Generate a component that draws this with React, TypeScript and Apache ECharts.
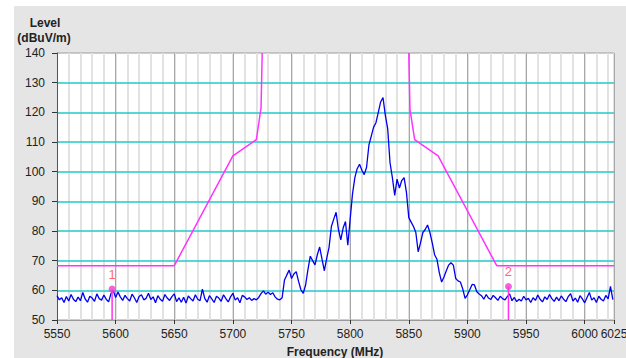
import { useEffect, useRef } from 'react';
import * as echarts from 'echarts';

// Axis ranges and tick labels
const FREQ_MIN = 5550;
const FREQ_MAX = 6025;
const X_LABEL_VALUES = [5550, 5600, 5650, 5700, 5750, 5800, 5850, 5900, 5950, 6000, 6025];
const LEVEL_MIN = 50;
const LEVEL_MAX = 140;

// Measured trace: sweep starts at 5550 MHz, one reading every 2 MHz
const TRACE_START_MHZ = 5550;
const TRACE_STEP_MHZ = 2;
const TRACE_LEVELS = [
  58.2, 56.8, 57.5, 55.9, 57.9, 56.4, 58.6, 57.0, 56.2, 57.7, // 5550
  56.5, 59.3, 57.1, 56.0, 58.0, 57.4, 56.3, 58.8, 57.2, 56.7, // 5570
  58.4, 57.0, 56.1, 58.9, 59.9, 57.6, 59.4, 57.8, 56.6, 58.3, // 5590
  57.2, 56.4, 58.7, 57.5, 55.9, 57.9, 58.5, 56.8, 57.3, 59.0, // 5610
  56.9, 57.8, 55.8, 58.2, 57.0, 56.3, 58.6, 57.4, 56.6, 57.9, // 5630
  58.8, 56.2, 57.5, 56.0, 57.7, 55.7, 58.1, 57.2, 56.4, 58.5, // 5650
  57.0, 56.5, 60.4, 57.3, 56.0, 58.2, 57.1, 55.9, 58.0, 57.4, // 5670
  56.3, 58.5, 57.2, 56.1, 57.8, 59.0, 56.7, 57.5, 55.8, 58.3, // 5690
  57.8, 56.9, 57.5, 56.6, 57.2, 56.8, 57.6, 58.9, 59.8, 58.7, // 5710
  59.4, 58.6, 59.2, 57.8, 57.0, 56.8, 57.5, 63.5, 65.2, 66.8, // 5730
  64.0, 65.5, 66.3, 63.0, 60.2, 59.0, 61.8, 67.0, 71.5, 70.0, // 5750
  68.6, 72.0, 74.6, 70.5, 66.6, 70.8, 74.5, 81.5, 84.0, 86.3, // 5770
  80.5, 77.0, 81.0, 83.2, 75.2, 84.0, 92.5, 98.0, 101.0, 102.5, // 5790
  100.5, 99.0, 101.5, 109.0, 112.0, 115.0, 116.5, 120.0, 123.5, 125.0, // 5810
  119.0, 114.5, 103.0, 98.0, 92.0, 97.5, 94.5, 97.0, 98.0, 93.0, // 5830
  84.5, 83.0, 81.5, 79.5, 73.0, 76.0, 79.5, 80.5, 82.0, 79.5, // 5850
  76.0, 72.0, 70.5, 66.0, 62.8, 64.5, 66.6, 68.5, 69.3, 68.5, // 5870
  64.0, 63.2, 62.8, 60.5, 57.3, 58.5, 60.2, 62.0, 61.8, 59.5, // 5890
  58.8, 58.2, 57.0, 58.6, 57.4, 56.9, 58.3, 57.5, 56.6, 58.0, // 5910
  57.2, 56.8, 57.9, 58.8, 56.5, 57.6, 56.2, 57.0, 56.4, 58.0, // 5930
  56.8, 57.3, 55.9, 57.5, 56.6, 58.4, 57.0, 56.1, 57.8, 56.9, // 5950
  58.6, 57.2, 56.3, 57.7, 56.5, 58.1, 57.0, 56.2, 57.9, 58.9, // 5970
  56.4, 57.4, 56.0, 58.2, 57.1, 55.8, 57.6, 59.3, 56.7, 57.5, // 5990
  55.9, 58.0, 57.0, 56.4, 58.3, 57.1, 61.3, 56.9, // 6010
];

// Emission mask (limit line), two branches
const MASK_LEFT: [number, number][] = [
  [5550, 68.3], [5650, 68.3], [5700, 105.3], [5720, 110.8], [5724, 121.5], [5725, 140],
];
const MASK_RIGHT: [number, number][] = [
  [5850, 140], [5851, 121.0], [5855, 110.8], [5875, 105.3], [5925, 68.3], [6025, 68.3],
];

// Markers
const MARKER_IDS = ['1', '2'];
const MARKER_FREQS = [5597, 5935];
const MARKER_LEVELS = [60.4, 61.3];

const FONT = '"Liberation Sans", Arial, sans-serif';

export default function App() {
  const ref = useRef<HTMLDivElement>(null);

  useEffect(() => {
    if (!ref.current) return;
    const chart = echarts.init(ref.current, null, { renderer: 'svg' });

    const traceData = TRACE_LEVELS.map((v, i) => [TRACE_START_MHZ + i * TRACE_STEP_MHZ, v]);

    const markerLineSeries = MARKER_FREQS.map((f, i) => ({
      type: 'line',
      xAxisIndex: 1,
      data: [[f, MARKER_LEVELS[i]], [f, LEVEL_MIN]],
      showSymbol: false,
      silent: true,
      lineStyle: { color: '#ff33ee', width: 1.5 },
      z: 5,
    }));

    chart.setOption({
      animation: false,
      backgroundColor: 'transparent',
      textStyle: { fontFamily: FONT },
      grid: {
        left: 57,
        right: 12,
        top: 53,
        bottom: 38,
        containLabel: false,
        outerBoundsMode: 'none',
        show: true,
        backgroundColor: '#ffffff',
        borderColor: '#9a9a9a',
        borderWidth: 1,
      },
      xAxis: [
        {
          type: 'value',
          min: FREQ_MIN,
          max: FREQ_MAX,
          interval: 10,
          position: 'top',
          z: 0,
          axisLine: { show: false },
          axisTick: { show: false },
          axisLabel: { show: false },
          splitLine: { show: true, lineStyle: { color: '#e2e2e2', width: 2, type: 'solid' } },
        },
        {
          type: 'value',
          min: FREQ_MIN,
          max: FREQ_MAX,
          interval: 50,
          position: 'bottom',
          z: 1,
          axisLine: { show: true, lineStyle: { color: '#9a9a9a', width: 1 } },
          axisTick: {
            show: true,
            customValues: X_LABEL_VALUES,
            length: 4,
            lineStyle: { color: '#333333' },
          },
          axisLabel: {
            customValues: X_LABEL_VALUES,
            formatter: (v: number) => String(v),
            hideOverlap: false,
            showMinLabel: true,
            showMaxLabel: true,
            margin: 8,
            fontSize: 12,
            color: '#222222',
            fontFamily: FONT,
          },
          splitLine: { show: true, lineStyle: { color: '#a8a8a8', width: 1, type: 'solid' } },
        },
      ],
      yAxis: {
        type: 'value',
        min: LEVEL_MIN,
        max: LEVEL_MAX,
        interval: 10,
        z: 2,
        axisLine: { show: true, lineStyle: { color: '#555555', width: 1 } },
        axisTick: { show: true, length: 5, lineStyle: { color: '#333333' } },
        axisLabel: {
          formatter: (v: number) => String(v),
          margin: 12,
          fontSize: 12,
          color: '#222222',
          fontFamily: FONT,
        },
        splitLine: {
          show: true,
          showMinLine: false,
          showMaxLine: false,
          lineStyle: { color: '#22c8c8', width: 1.5, type: 'solid' },
        },
      },
      graphic: [
        {
          type: 'text',
          x: 45,
          y: 23,
          style: {
            text: 'Level',
            align: 'center',
            verticalAlign: 'middle',
            font: `bold 12px ${FONT}`,
            fill: '#222222',
          },
        },
        {
          type: 'text',
          x: 44,
          y: 38,
          style: {
            text: '(dBuV/m)',
            align: 'center',
            verticalAlign: 'middle',
            font: `bold 12px ${FONT}`,
            fill: '#222222',
          },
        },
        {
          type: 'text',
          x: 335,
          y: 352,
          style: {
            text: 'Frequency (MHz)',
            align: 'center',
            verticalAlign: 'middle',
            font: `bold 12px ${FONT}`,
            fill: '#222222',
          },
        },
      ],
      series: [
        {
          type: 'line',
          name: 'trace',
          xAxisIndex: 1,
          data: traceData,
          showSymbol: false,
          silent: true,
          lineStyle: { color: '#0000ee', width: 1.3 },
          z: 3,
        },
        {
          type: 'line',
          name: 'maskL',
          xAxisIndex: 1,
          data: MASK_LEFT,
          showSymbol: false,
          silent: true,
          lineStyle: { color: '#ff33ff', width: 1.5 },
          z: 4,
        },
        {
          type: 'line',
          name: 'maskR',
          xAxisIndex: 1,
          data: MASK_RIGHT,
          showSymbol: false,
          silent: true,
          lineStyle: { color: '#ff33ff', width: 1.5 },
          z: 4,
        },
        ...markerLineSeries,
        {
          type: 'scatter',
          xAxisIndex: 1,
          data: MARKER_FREQS.map((f, i) => ({ name: MARKER_IDS[i], value: [f, MARKER_LEVELS[i]] })),
          symbol: 'circle',
          symbolSize: 7,
          itemStyle: { color: '#f03cd0' },
          label: {
            show: true,
            position: 'top',
            distance: 5,
            formatter: (p: any) => p.name,
            color: '#ff3c3c',
            fontSize: 13,
            fontFamily: FONT,
          },
          silent: true,
          z: 6,
        },
      ],
    });

    return () => chart.dispose();
  }, []);

  return (
    <div style={{ position: 'absolute', left: 0, top: 0, width: 626, height: 358, background: '#ffffff', overflow: 'hidden' }}>
      <div style={{ position: 'absolute', left: 14, top: 6, right: 0, bottom: 0, background: '#e5e5e5' }} />
      <div ref={ref} style={{ position: 'absolute', left: 0, top: 0, width: 626, height: 358 }} />
    </div>
  );
}
